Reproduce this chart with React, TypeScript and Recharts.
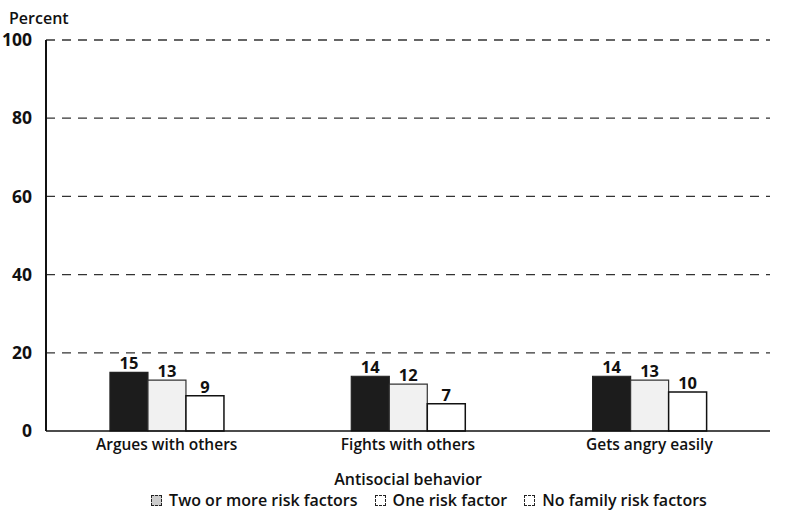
import React from "react";
import { BarChart, Bar, XAxis, YAxis, CartesianGrid, LabelList } from "recharts";

const categories = ["Argues with others", "Fights with others", "Gets angry easily"];
const twoOrMore = [15, 14, 14];
const oneRisk = [13, 12, 13];
const noRisk = [9, 7, 10];
const yTicks = [0, 20, 40, 60, 80, 100];
const seriesNames = ["Two or more risk factors", "One risk factor", "No family risk factors"];

const data = categories.map((c, i) => ({ name: c, a: twoOrMore[i], b: oneRisk[i], c: noRisk[i] }));

const FONT = "'Open Sans', 'Noto Sans', sans-serif";
const fills = ["#1c1c1c", "#f1f1f1", "#ffffff"];

const LegendContent = () => (
  <div style={{ position: "absolute", left: 0, width: 858, top: 489, display: "flex", justifyContent: "center", gap: 17, fontFamily: FONT, fontSize: 16, fontWeight: 600, color: "#111" }}>
    {seriesNames.map((n, i) => (
      <div key={n} style={{ display: "flex", alignItems: "center", gap: 7 }}>
        <span style={{ display: "inline-block", width: 9, height: 9, border: "1.5px dashed #222", background: i === 0 ? "#ccc" : "#fff" }} />
        <span>{n}</span>
      </div>
    ))}
  </div>
);

export default function App() {
  return (
    <div style={{ position: "absolute", left: 0, top: 0, width: 800, height: 513, background: "#fff" }}>
      <div style={{ position: "absolute", left: 9, top: 7, fontFamily: FONT, fontSize: 16, fontWeight: 600, color: "#111" }}>Percent</div>
      <div style={{ position: "absolute", left: 46, width: 724, top: 468, textAlign: "center", fontFamily: FONT, fontSize: 16, fontWeight: 600, color: "#111" }}>Antisocial behavior</div>
      <LegendContent />
      <BarChart
        width={800}
        height={513}
        data={data}
        margin={{ top: 40, right: 30, left: 0, bottom: 52 }}
        barCategoryGap="26.5%"
        barGap={0}
      >
        <CartesianGrid vertical={false} stroke="#333" strokeDasharray="9 7" strokeWidth={1.3} horizontalValues={[20, 40, 60, 80, 100]} />
        <XAxis
          dataKey="name"
          height={30}
          tickLine={false}
          axisLine={{ stroke: "#111", strokeWidth: 1.5 }}
          tick={{ fill: "#111", fontFamily: FONT, fontSize: 15.5, fontWeight: 600 }}
          tickMargin={2}
        />
        <YAxis
          width={46}
          domain={[0, 100]}
          ticks={yTicks}
          tickLine={false}
          axisLine={{ stroke: "#111", strokeWidth: 2 }}
          tick={{ fill: "#111", fontFamily: FONT, fontSize: 17.5, fontWeight: 700 }}
          tickMargin={8}
        />
        <Bar dataKey="a" name={seriesNames[0]} fill={fills[0]} stroke="#222" strokeWidth={1.2} isAnimationActive={false}>
          <LabelList dataKey="a" position="top" offset={3} style={{ fill: "#111", fontFamily: FONT, fontSize: 16.5, fontWeight: 700 }} />
        </Bar>
        <Bar dataKey="b" name={seriesNames[1]} fill={fills[1]} stroke="#333" strokeWidth={1.2} isAnimationActive={false}>
          <LabelList dataKey="b" position="top" offset={3} style={{ fill: "#111", fontFamily: FONT, fontSize: 16.5, fontWeight: 700 }} />
        </Bar>
        <Bar dataKey="c" name={seriesNames[2]} fill={fills[2]} stroke="#111" strokeWidth={1.5} isAnimationActive={false}>
          <LabelList dataKey="c" position="top" offset={3} style={{ fill: "#111", fontFamily: FONT, fontSize: 16.5, fontWeight: 700 }} />
        </Bar>
      </BarChart>
    </div>
  );
}
